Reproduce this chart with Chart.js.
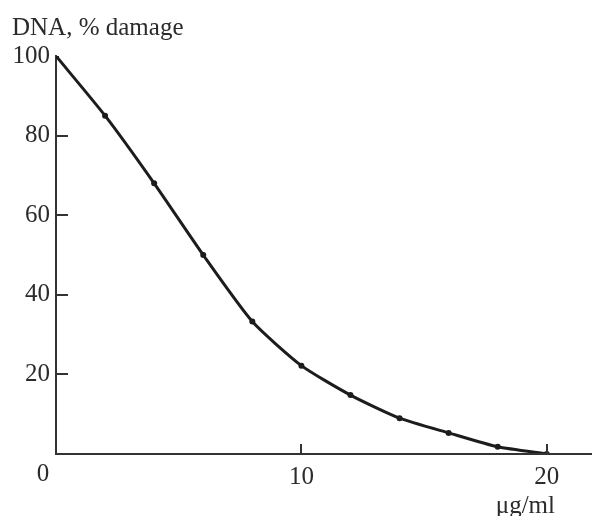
<!DOCTYPE html>
<html>
<head>
<meta charset="utf-8">
<script src="https://cdn.jsdelivr.net/npm/chart.js@4"></script>
<style>
  html, body { margin: 0; padding: 0; background: #fff; }
  #wrap { width: 592px; height: 516px; position: relative; }
</style>
</head>
<body>
<div id="wrap"><canvas id="myChart"></canvas></div>
<script>
// concentration, ug/ml
const concentrations = [0, 2, 4, 6, 8, 10, 12, 14, 16, 18, 20];
// DNA damage, %
const damage = [100, 85, 68, 50, 33.3, 22.2, 14.8, 9.0, 5.3, 1.8, 0];
const yTicks = [20, 40, 60, 80, 100];
const xTicks = [10, 20];
const yTitle = 'DNA, % damage';
const xTitle = 'μg/ml';
const originLabel = '0';

const FONT = '"Liberation Serif", "DejaVu Serif", serif';
const INK = '#2b2b2b';

// draws the inward tick marks and the loose texts of the scanned figure
const figureExtras = {
    id: 'figureExtras',
    afterDraw(chart) {
        const ctx = chart.ctx;
        const x = chart.scales.x;
        const y = chart.scales.y;
        const x0 = x.getPixelForValue(0);
        const y0 = y.getPixelForValue(0);
        ctx.save();
        ctx.strokeStyle = '#333';
        ctx.lineWidth = 2;
        ctx.beginPath();
        yTicks.slice(0, 4).forEach(v => {
            const py = Math.round(y.getPixelForValue(v));
            ctx.moveTo(x0, py);
            ctx.lineTo(x0 + 12, py);
        });
        xTicks.forEach(v => {
            const px = Math.round(x.getPixelForValue(v));
            ctx.moveTo(px, y0);
            ctx.lineTo(px, y0 - 10);
        });
        // x axis runs on to the page edge
        ctx.moveTo(x0, y0);
        ctx.lineTo(chart.width, y0);
        ctx.stroke();

        ctx.fillStyle = INK;
        ctx.font = '25px ' + FONT;
        ctx.textBaseline = 'alphabetic';
        ctx.textAlign = 'left';
        ctx.fillText(yTitle, 12, 35);
        ctx.fillText(xTitle, x.getPixelForValue(20) - 51, 513);
        ctx.textAlign = 'center';
        ctx.fillText(originLabel, x0 - 13, y0 + 27);
        ctx.restore();
    }
};

new Chart(document.getElementById('myChart'), {
    type: 'line',
    data: {
        datasets: [{
            data: concentrations.map((c, i) => ({x: c, y: damage[i]})),
            borderColor: '#1c1c1c',
            borderWidth: 3,
            backgroundColor: '#1c1c1c',
            pointRadius: 3,
            pointBorderWidth: 0,
            tension: 0.2,
            fill: false,
        }]
    },
    options: {
        responsive: true,
        maintainAspectRatio: false,
        animation: false,
        events: [],
        layout: { padding: { top: 56, right: 0, bottom: 0, left: 0 } },
        plugins: {
            legend: { display: false },
            tooltip: { enabled: false },
            title: { display: false },
        },
        scales: {
            x: {
                type: 'linear',
                min: 0,
                max: 21.68,
                afterBuildTicks: (scale) => { scale.ticks = xTicks.map(v => ({value: v})); },
                afterFit: (scale) => { scale.height = 62; },
                grid: { display: false, drawTicks: false },
                border: { display: true, color: '#333', width: 2 },
                ticks: {
                    color: INK,
                    font: { family: FONT, size: 25 },
                    padding: 8,
                    maxRotation: 0,
                },
            },
            y: {
                min: 0,
                max: 100,
                afterBuildTicks: (scale) => { scale.ticks = yTicks.map(v => ({value: v})); },
                afterFit: (scale) => { scale.width = 56; },
                grid: { display: false, drawTicks: false },
                border: { display: true, color: '#333', width: 2 },
                ticks: {
                    color: INK,
                    font: { family: FONT, size: 25 },
                    padding: 6,
                },
            },
        },
    },
    plugins: [figureExtras],
});
</script>
</body>
</html>
